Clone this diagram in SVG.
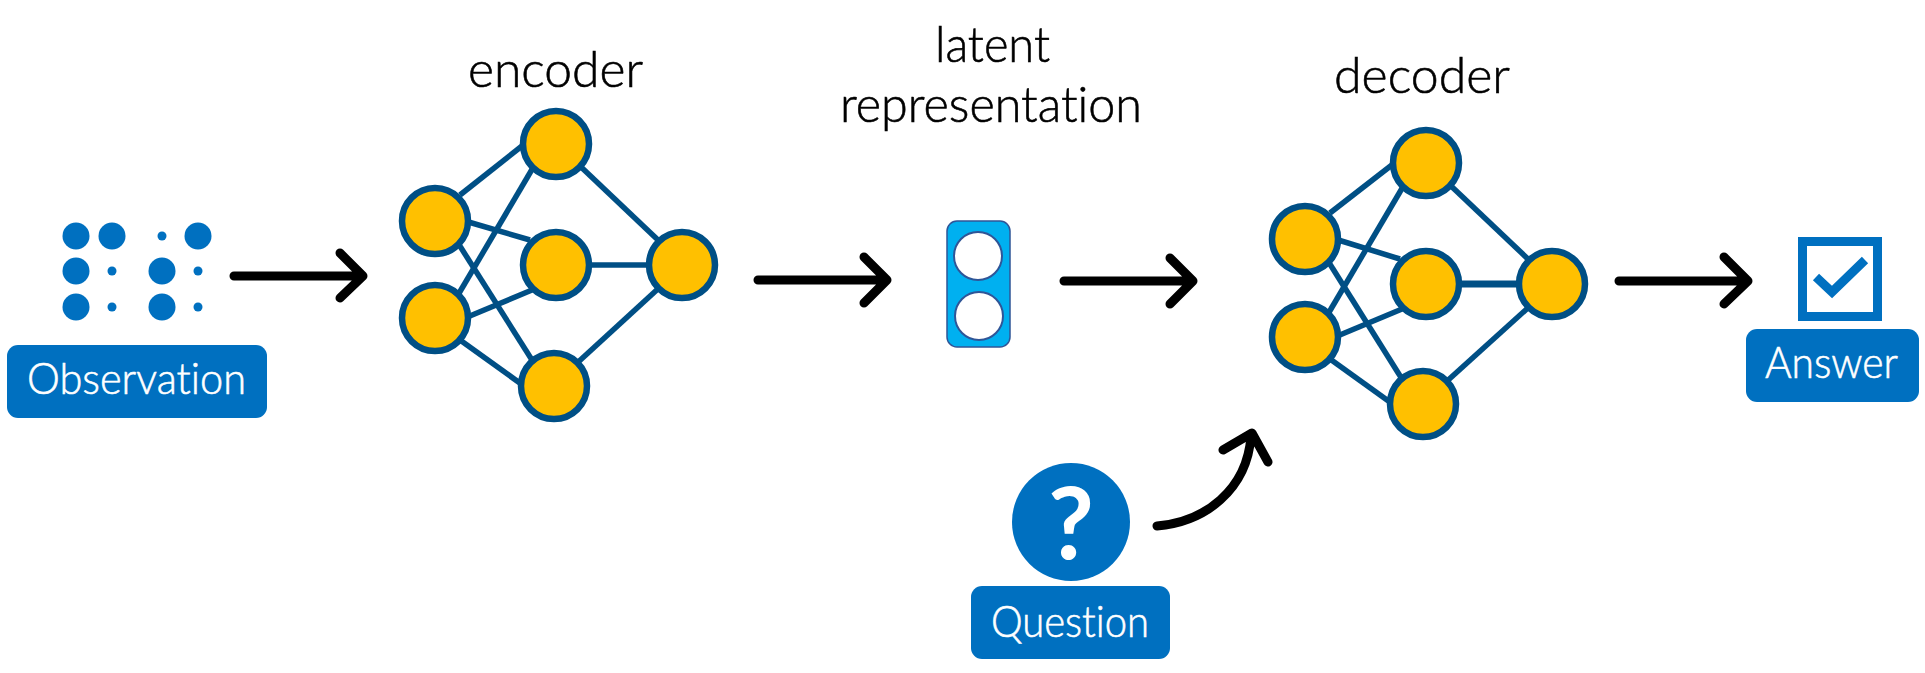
<svg xmlns="http://www.w3.org/2000/svg" width="1925" height="673" viewBox="0 0 1925 673">
<style>
.e{stroke:#004F85;stroke-width:5.5;fill:none}
.n{fill:#FFC000;stroke:#004F85;stroke-width:6.5}
.a{stroke:#000;stroke-width:9;fill:none;stroke-linecap:round;stroke-linejoin:round}
.b{fill:#0070C0}
.d{fill:#0070C0}
.t{font-family:"Lato","Open Sans",sans-serif;font-weight:300;font-size:50px;fill:#000;stroke:#000;stroke-width:.6;font-variant-ligatures:none}
.w{font-family:"Lato","Open Sans",sans-serif;font-weight:300;font-size:44px;fill:#fff;stroke:#fff;stroke-width:.6;font-variant-ligatures:none}
.l{fill:#fff;stroke:#2F5597;stroke-width:2}
</style>
<rect width="1925" height="673" fill="#fff"/>
<g id="connectors">
<g id="encoder-edges" class="e">
<line x1="460" y1="195" x2="527" y2="142"/><line x1="465" y1="221" x2="530" y2="240"/><line x1="458" y1="243" x2="532" y2="360"/>
<line x1="458" y1="295" x2="534" y2="166"/><line x1="465" y1="318" x2="532" y2="290"/><line x1="460" y1="340" x2="524" y2="386"/>
<line x1="580" y1="166" x2="658" y2="240"/><line x1="585" y1="265" x2="655" y2="265"/><line x1="576" y1="364" x2="660" y2="287"/>
</g>
<g id="decoder-edges" class="e">
<line x1="1330" y1="213" x2="1397" y2="161"/><line x1="1335" y1="239" x2="1400" y2="259"/><line x1="1328" y1="261" x2="1402" y2="379"/>
<line x1="1328" y1="314" x2="1404" y2="185"/><line x1="1335" y1="337" x2="1402" y2="309"/><line x1="1330" y1="359" x2="1394" y2="405"/>
<line x1="1450" y1="185" x2="1528" y2="259"/><line x1="1455" y1="284" x2="1525" y2="284" stroke-width="7"/><line x1="1446" y1="382" x2="1530" y2="306"/>
</g>
<g id="arrows" class="a">
<path d="M234 276H362M340 253L363 276L340 298"/>
<path d="M758 280H886M864 257L887 280L864 303"/>
<path d="M1064 281H1192M1170 258L1193 281L1170 304"/>
<path d="M1619 281H1747M1724 257L1748 281L1724 304"/>
<path d="M1157 526C1205 522 1247 490 1251 436M1223 450L1252 433L1268 462"/>
</g>
</g>
<g id="observation">
<g class="d">
<circle cx="76" cy="236" r="13.5"/><circle cx="112" cy="236" r="13.5"/><circle cx="162" cy="236" r="4.5"/><circle cx="198" cy="236" r="13.5"/>
<circle cx="76" cy="271" r="13.5"/><circle cx="112" cy="271" r="4.5"/><circle cx="162" cy="271" r="13.5"/><circle cx="198" cy="271" r="4.5"/>
<circle cx="76" cy="307" r="13.5"/><circle cx="112" cy="307" r="4.5"/><circle cx="162" cy="307" r="13.5"/><circle cx="198" cy="307" r="4.5"/>
</g>
<rect class="b" x="7" y="345" width="260" height="73" rx="11"/>
<text class="w" x="27" y="394" textLength="219" lengthAdjust="spacingAndGlyphs">Observation</text>
</g>
<g id="encoder">
<text class="t" x="468" y="87" textLength="175" lengthAdjust="spacingAndGlyphs">encoder</text>
<circle class="n" cx="556" cy="144" r="33"/><circle class="n" cx="556" cy="265" r="33"/><circle class="n" cx="554" cy="386" r="33"/>
<circle class="n" cx="435" cy="221" r="33"/><circle class="n" cx="435" cy="318" r="33"/><circle class="n" cx="682" cy="265" r="33"/>
</g>
<g id="latent">
<text class="t" x="935" y="62" textLength="115" lengthAdjust="spacingAndGlyphs">latent</text>
<text class="t" x="840" y="122" textLength="302" lengthAdjust="spacingAndGlyphs">representation</text>
<rect x="947" y="221" width="63" height="126" rx="10" fill="#00B0F0" stroke="#2F5597" stroke-width="1.5"/>
<circle class="l" cx="978" cy="256" r="24"/><circle class="l" cx="979" cy="316" r="24"/>
</g>
<g id="decoder">
<text class="t" x="1334" y="93" textLength="176" lengthAdjust="spacingAndGlyphs">decoder</text>
<circle class="n" cx="1426" cy="163" r="33"/><circle class="n" cx="1426" cy="284" r="33"/><circle class="n" cx="1423" cy="404" r="33"/>
<circle class="n" cx="1305" cy="239" r="33"/><circle class="n" cx="1305" cy="337" r="33"/><circle class="n" cx="1552" cy="284" r="33"/>
</g>
<g id="question">
<circle class="b" cx="1071" cy="522" r="59"/>
<text x="1071" y="559" text-anchor="middle" font-family="Lato,sans-serif" font-weight="700" font-size="100" fill="#fff">?</text>
<rect class="b" x="971" y="586" width="199" height="73" rx="11"/>
<text class="w" x="991" y="637" textLength="158" lengthAdjust="spacingAndGlyphs">Question</text>
</g>
<g id="answer">
<rect x="1802.5" y="241.5" width="75" height="75" fill="none" stroke="#0070C0" stroke-width="9"/>
<polyline points="1816,277 1832,292 1865,260" fill="none" stroke="#0070C0" stroke-width="9"/>
<rect class="b" x="1746" y="329" width="173" height="73" rx="11"/>
<text class="w" x="1765" y="378" textLength="133" lengthAdjust="spacingAndGlyphs">Answer</text>
</g>
</svg>
